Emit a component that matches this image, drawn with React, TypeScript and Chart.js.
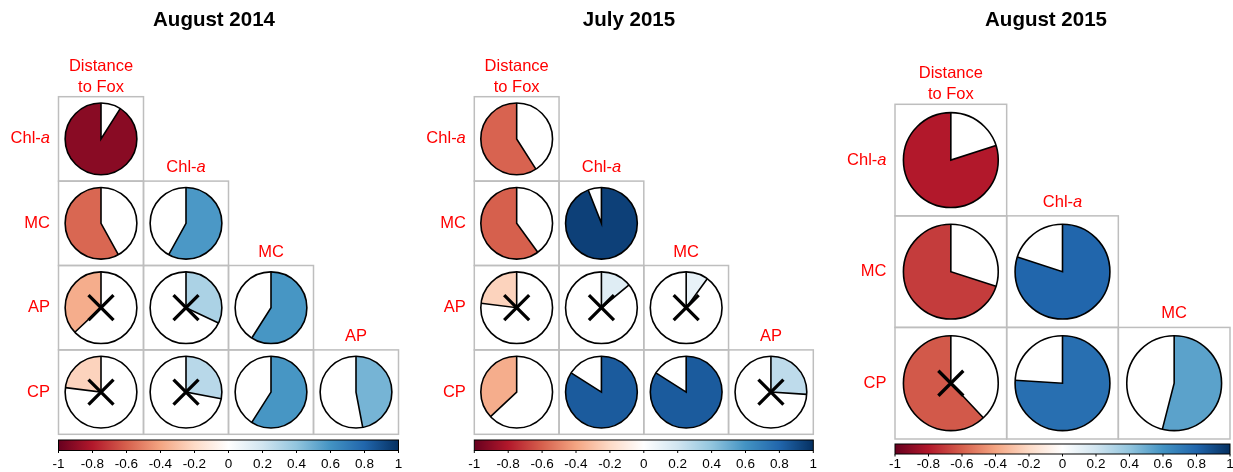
import React, { useEffect, useRef } from "react";
import { Chart, registerables } from "chart.js";

Chart.register(...registerables);

// ---------- data ----------
const aug2014Title = "August 2014";
const aug2014Rows = ["Chl-a", "MC", "AP", "CP"];
const aug2014Cols = [["Distance", "to Fox"], ["Chl-a"], ["MC"], ["AP"]];
const aug2014Corr = [
  [-0.91],
  [-0.58, 0.58],
  [-0.37, 0.32, 0.59],
  [-0.23, 0.28, 0.59, 0.47],
];
const aug2014Insig = [
  [false],
  [false, false],
  [true, true, false],
  [true, true, false, false],
];

const jul2015Title = "July 2015";
const jul2015Rows = ["Chl-a", "MC", "AP", "CP"];
const jul2015Cols = [["Distance", "to Fox"], ["Chl-a"], ["MC"], ["AP"]];
const jul2015Corr = [
  [-0.59],
  [-0.6, 0.94],
  [-0.23, 0.14, 0.1],
  [-0.37, 0.84, 0.84, 0.26],
];
const jul2015Insig = [
  [false],
  [false, false],
  [true, true, true],
  [false, false, false, true],
];

const aug2015Title = "August 2015";
const aug2015Rows = ["Chl-a", "MC", "CP"];
const aug2015Cols = [["Distance", "to Fox"], ["Chl-a"], ["MC"]];
const aug2015Corr = [
  [-0.8],
  [-0.7, 0.8],
  [-0.62, 0.76, 0.54],
];
const aug2015Insig = [
  [false],
  [false, false],
  [true, false, false],
];

const colorbarTicks = [-1, -0.8, -0.6, -0.4, -0.2, 0, 0.2, 0.4, 0.6, 0.8, 1];
const colorbarLabels = ["-1", "-0.8", "-0.6", "-0.4", "-0.2", "0", "0.2", "0.4", "0.6", "0.8", "1"];

// ---------- style ----------
const PALETTE = [
  "#67001F", "#B2182B", "#D6604D", "#F4A582", "#FDDBC7", "#FFFFFF",
  "#D1E5F0", "#92C5DE", "#4393C3", "#2166AC", "#053061",
];
const FONT = "'Liberation Sans', Arial, sans-serif";
const LABEL_RED = "#FF0000";

function hexToRgb(h: string) {
  const n = parseInt(h.slice(1), 16);
  return [(n >> 16) & 255, (n >> 8) & 255, n & 255];
}
function corrColor(r: number) {
  const t = ((Math.max(-1, Math.min(1, r)) + 1) / 2) * (PALETTE.length - 1);
  const i = Math.min(PALETTE.length - 2, Math.floor(t));
  const f = t - i;
  const a = hexToRgb(PALETTE[i]);
  const b = hexToRgb(PALETTE[i + 1]);
  const c = a.map((v, k) => Math.round(v + (b[k] - v) * f));
  return `rgb(${c[0]},${c[1]},${c[2]})`;
}

type PanelDef = {
  title: string;
  rows: string[];
  cols: string[][];
  corr: number[][];
  insig: boolean[][];
  left: number;
  width: number;
  padding: { left: number; right: number; top: number; bottom: number };
  titleX: number;
  cbOffset: number;
  cbHeight: number;
  labelY: number;
};

const panels: PanelDef[] = [
  {
    title: aug2014Title, rows: aug2014Rows, cols: aug2014Cols, corr: aug2014Corr, insig: aug2014Insig,
    left: 0, width: 415,
    padding: { left: 58.5, right: 16.5, top: 96.7, bottom: 37.7 },
    titleX: 214, cbOffset: 5.7, cbHeight: 10.5, labelY: 467.5,
  },
  {
    title: jul2015Title, rows: jul2015Rows, cols: jul2015Cols, corr: jul2015Corr, insig: jul2015Insig,
    left: 415, width: 415,
    padding: { left: 59.3, right: 16.7, top: 96.7, bottom: 37.7 },
    titleX: 214, cbOffset: 5.7, cbHeight: 10.5, labelY: 467.5,
  },
  {
    title: aug2015Title, rows: aug2015Rows, cols: aug2015Cols, corr: aug2015Corr, insig: aug2015Insig,
    left: 830, width: 403,
    padding: { left: 65, right: 3, top: 104.3, bottom: 33 },
    titleX: 216, cbOffset: 5, cbHeight: 10, labelY: 467.7,
  },
];

const LABEL_SIZE = 16.5;

function drawVarLabel(ctx: CanvasRenderingContext2D, text: string, x: number, y: number, align: "right" | "center") {
  // "Chl-a" has italic "a"
  const normalFont = `${LABEL_SIZE}px ${FONT}`;
  const italicFont = `italic ${LABEL_SIZE}px ${FONT}`;
  ctx.fillStyle = LABEL_RED;
  ctx.textBaseline = "alphabetic";
  if (text === "Chl-a") {
    ctx.font = normalFont;
    const w1 = ctx.measureText("Chl-").width;
    ctx.font = italicFont;
    const w2 = ctx.measureText("a").width;
    const total = w1 + w2;
    const x0 = align === "right" ? x - total : x - total / 2;
    ctx.textAlign = "left";
    ctx.font = normalFont;
    ctx.fillText("Chl-", x0, y);
    ctx.font = italicFont;
    ctx.fillText("a", x0 + w1, y);
  } else {
    ctx.font = normalFont;
    ctx.textAlign = align;
    ctx.fillText(text, x, y);
  }
}

function makePlugin(p: PanelDef) {
  return {
    id: "corrpie",
    afterDatasetsDraw(chart: any) {
      const ctx: CanvasRenderingContext2D = chart.ctx;
      const xs = chart.scales.x;
      const ys = chart.scales.y;
      const cb = chart.scales.cb;
      const area = chart.chartArea;
      ctx.save();

      // title
      ctx.fillStyle = "#000";
      ctx.font = `bold 20.5px ${FONT}`;
      ctx.textAlign = "center";
      ctx.textBaseline = "alphabetic";
      ctx.fillText(p.title, p.titleX, 26);

      // cells
      p.corr.forEach((row, i) => {
        row.forEach((r, j) => {
          const cx = xs.getPixelForValue(j);
          const cy = ys.getPixelForValue(i);
          const x0 = xs.getPixelForValue(j - 0.5);
          const x1 = xs.getPixelForValue(j + 0.5);
          const y0 = ys.getPixelForValue(i - 0.5);
          const y1 = ys.getPixelForValue(i + 0.5);
          const hw = Math.abs(x1 - x0) / 2;
          const hh = Math.abs(y1 - y0) / 2;
          // cell border
          ctx.strokeStyle = "#BEBEBE";
          ctx.lineWidth = 1.5;
          ctx.strokeRect(Math.min(x0, x1), Math.min(y0, y1), hw * 2, hh * 2);

          const R = Math.min(hw, hh) * 0.85;
          const start = -Math.PI / 2;
          const end = start + 2 * Math.PI * r;
          // white disc
          ctx.beginPath();
          ctx.arc(cx, cy, R, 0, Math.PI * 2);
          ctx.fillStyle = "#FFFFFF";
          ctx.fill();
          // filled sector
          ctx.beginPath();
          ctx.moveTo(cx, cy);
          ctx.arc(cx, cy, R, start, end, r < 0);
          ctx.closePath();
          ctx.fillStyle = corrColor(r);
          ctx.fill();
          // outlines
          ctx.strokeStyle = "#000";
          ctx.lineWidth = 1.6;
          ctx.beginPath();
          ctx.arc(cx, cy, R, 0, Math.PI * 2);
          ctx.stroke();
          ctx.beginPath();
          ctx.moveTo(cx, cy - R);
          ctx.lineTo(cx, cy);
          ctx.lineTo(cx + R * Math.cos(end), cy + R * Math.sin(end));
          ctx.stroke();

          if (p.insig[i][j]) {
            const s = 12.5;
            ctx.lineWidth = 3.3;
            ctx.lineCap = "butt";
            ctx.beginPath();
            ctx.moveTo(cx - s, cy - s);
            ctx.lineTo(cx + s, cy + s);
            ctx.moveTo(cx + s, cy - s);
            ctx.lineTo(cx - s, cy + s);
            ctx.stroke();
          }
        });
      });

      // row labels
      p.rows.forEach((name, i) => {
        const cy = ys.getPixelForValue(i);
        drawVarLabel(ctx, name, area.left - 8.5, cy + 4.5, "right");
      });

      // column labels
      p.cols.forEach((lines, j) => {
        const cx = xs.getPixelForValue(j);
        const top = ys.getPixelForValue(j - 0.5);
        if (lines.length === 1) {
          drawVarLabel(ctx, lines[0], cx, top - 9, "center");
        } else {
          drawVarLabel(ctx, lines[0], cx, top - 26, "center");
          drawVarLabel(ctx, lines[1], cx, top - 5, "center");
        }
      });

      // colorbar
      const bx0 = cb.getPixelForValue(-1);
      const bx1 = cb.getPixelForValue(1);
      const by0 = area.bottom + p.cbOffset;
      const bh = p.cbHeight;
      const grad = ctx.createLinearGradient(bx0, 0, bx1, 0);
      PALETTE.forEach((c, k) => grad.addColorStop(k / (PALETTE.length - 1), c));
      ctx.fillStyle = grad;
      ctx.fillRect(bx0, by0, bx1 - bx0, bh);
      ctx.strokeStyle = "#000";
      ctx.lineWidth = 1;
      ctx.strokeRect(bx0, by0, bx1 - bx0, bh);

      ctx.font = `13.5px ${FONT}`;
      ctx.fillStyle = "#000";
      ctx.textAlign = "center";
      ctx.textBaseline = "alphabetic";
      colorbarTicks.forEach((v, k) => {
        const tx = cb.getPixelForValue(v);
        ctx.beginPath();
        ctx.moveTo(tx, by0 + bh);
        ctx.lineTo(tx, by0 + bh + 2.5);
        ctx.stroke();
        ctx.fillText(colorbarLabels[k], tx, p.labelY);
      });

      ctx.restore();
    },
  };
}

function Panel({ p }: { p: PanelDef }) {
  const ref = useRef<HTMLCanvasElement | null>(null);
  useEffect(() => {
    if (!ref.current) return;
    const points: { x: number; y: number }[] = [];
    p.corr.forEach((row, i) => row.forEach((_r, j) => points.push({ x: j, y: i })));
    const chart = new Chart(ref.current, {
      type: "scatter",
      data: { datasets: [{ data: points, pointRadius: 0, showLine: false }] },
      options: {
        responsive: false,
        animation: false,
        events: [],
        layout: { padding: p.padding },
        plugins: {
          legend: { display: false },
          title: { display: false },
          tooltip: { enabled: false },
        },
        scales: {
          x: { type: "linear", min: -0.5, max: p.cols.length - 0.5, display: false },
          y: { type: "linear", min: -0.5, max: p.rows.length - 0.5, reverse: true, display: false },
          cb: { type: "linear", axis: "x", position: "bottom", min: -1, max: 1, display: false },
        },
      } as any,
      plugins: [makePlugin(p)],
    });
    return () => chart.destroy();
  }, [p]);
  return (
    <div style={{ position: "absolute", left: p.left, top: 0, width: p.width, height: 472 }}>
      <canvas ref={ref} width={p.width} height={472} style={{ width: p.width, height: 472, display: "block" }} />
    </div>
  );
}

export default function App() {
  return (
    <div style={{ position: "fixed", left: 0, top: 0, width: 1233, height: 472, background: "#fff", overflow: "hidden" }}>
      {panels.map((p, k) => (
        <Panel key={k} p={p} />
      ))}
    </div>
  );
}
